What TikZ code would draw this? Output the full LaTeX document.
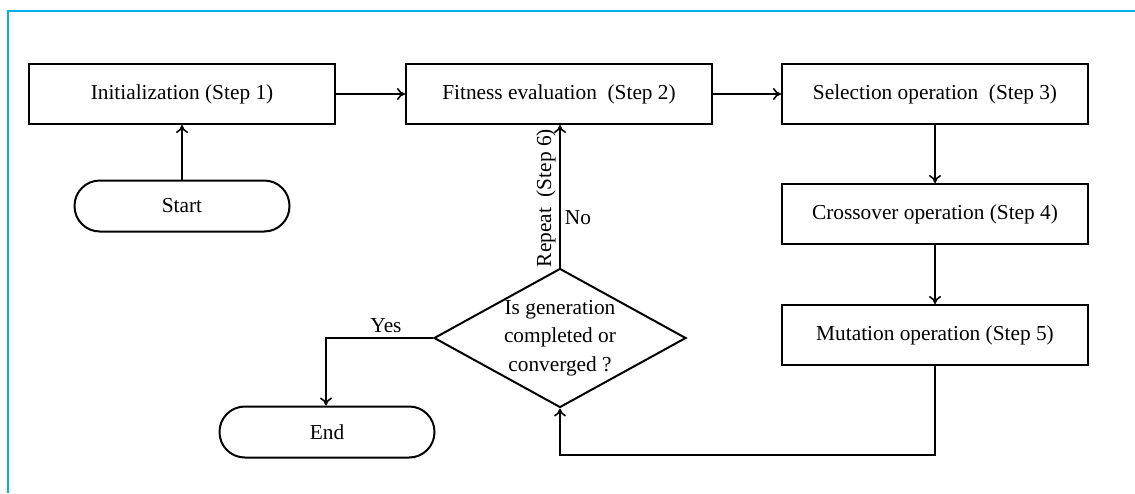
\documentclass[tikz,border=0pt]{standalone}
\usepackage{fontspec}
\setmainfont{Liberation Serif}
\usetikzlibrary{shapes.geometric,arrows.meta}
\definecolor{framecyan}{RGB}{0,176,240}
\tikzset{
  procbox/.style={draw, line width=1.5pt, minimum width=229.5pt, minimum height=45pt, inner sep=0pt, font=\fontsize{16}{19}\selectfont},
  termbox/.style={draw, line width=1.5pt, rounded corners=19pt, minimum width=161.25pt, minimum height=38.25pt, inner sep=0pt, font=\fontsize{16}{19}\selectfont},
  decbox/.style={draw, line width=1.5pt, shape=diamond, aspect=1.81, minimum width=189pt, minimum height=104.25pt, inner sep=0pt, align=center, font=\fontsize{16}{21.5}\selectfont},
  conn/.style={line width=1.2pt, -{To[length=6pt,width=9pt]}},
  lbl/.style={font=\fontsize{16}{19}\selectfont, inner sep=0pt}
}
\begin{document}
\begin{tikzpicture}[x=0.75pt,y=-0.75pt]
\useasboundingbox (0,0) rectangle (1135,493);
\draw[framecyan, line width=2pt] (8,493) -- (8,11) -- (1135,11);
\node[procbox] (init) at (182,94) {Initialization (Step 1)};
\node[procbox] (fit) at (559,94) {Fitness evaluation\ \ (Step 2)};
\node[procbox] (sel) at (935,94) {Selection operation\ \ (Step 3)};
\node[procbox] (cross) at (935,214) {Crossover operation (Step 4)};
\node[procbox] (mut) at (935,335) {Mutation operation (Step 5)};
\node[termbox] (start) at (182,206) {Start};
\node[termbox] (end) at (327,432) {End};
\node[decbox] (dec) at (560,338) {Is generation\\completed or\\converged ?};
\coordinate (c1) at (935,455);
\coordinate (c2) at (560,455);
\coordinate (c3) at (326,338);
\draw[conn] (start) -- (init);
\draw[conn] (init) -- (fit);
\draw[conn] (fit) -- (sel);
\draw[conn] (sel) -- (cross);
\draw[conn] (cross) -- (mut);
\draw[conn] (mut.south) -- (c1) -- (c2) -- (dec.south);
\draw[conn] (dec.north) -- (fit.south -| dec.north);
\draw[conn] (dec.west) -- (c3) -- (c3 |- end.north);
\node[lbl] (yes) at (386,326) {Yes};
\node[lbl] (no) at (578,218) {No};
\node[lbl, rotate=90] (rep) at (546,198) {Repeat\ \ (Step 6)};
\end{tikzpicture}
\end{document}
